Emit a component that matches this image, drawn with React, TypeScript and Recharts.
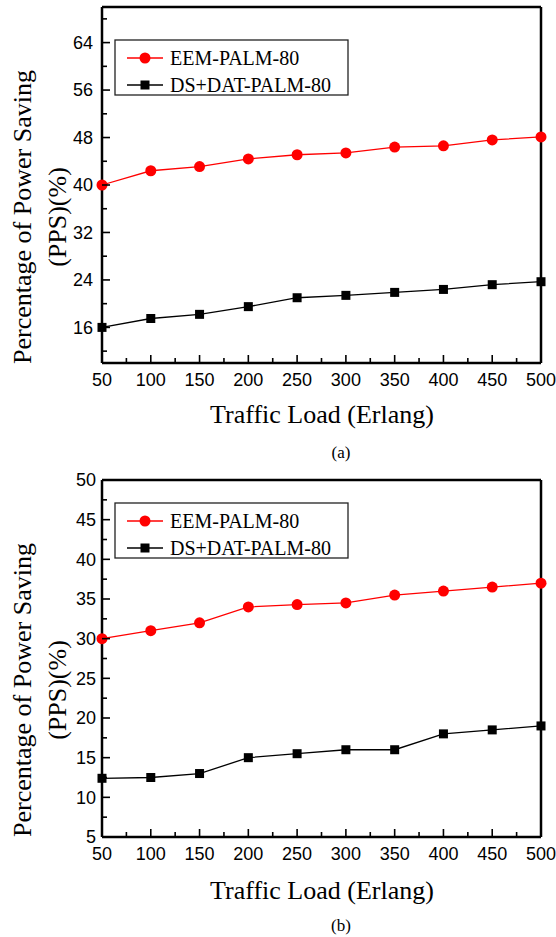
import React from "react";
import { LineChart, Line, XAxis, YAxis } from "recharts";

const loads = [50, 100, 150, 200, 250, 300, 350, 400, 450, 500];

// panel (a)
const eemA = [40, 42.4, 43.1, 44.4, 45.1, 45.4, 46.4, 46.6, 47.6, 48.1];
const dsA = [16, 17.5, 18.2, 19.5, 21.0, 21.4, 21.9, 22.4, 23.2, 23.7];
// panel (b)
const eemB = [30, 31, 32, 34, 34.3, 34.5, 35.5, 36, 36.5, 37];
const dsB = [12.4, 12.5, 13, 15, 15.5, 16, 16, 18, 18.5, 19];

const xMajor = [50, 100, 150, 200, 250, 300, 350, 400, 450, 500];
const xMinor = [75, 125, 175, 225, 275, 325, 375, 425, 475];
const yMajorA = [16, 24, 32, 40, 48, 56, 64];
const yMinorA = [12, 20, 28, 36, 44, 52, 60, 68];
const yMajorB = [5, 10, 15, 20, 25, 30, 35, 40, 45, 50];
const yMinorB = [7.5, 12.5, 17.5, 22.5, 27.5, 32.5, 37.5, 42.5, 47.5];

const seriesNames = ["EEM-PALM-80", "DS+DAT-PALM-80"];
const yTitle = ["Percentage of Power Saving", "(PPS)(%)"];
const xTitle = "Traffic Load (Erlang)";

const RED = "#ff0000";
const SERIF = "'Liberation Serif', 'Times New Roman', serif";
const SANS = "'Liberation Sans', Arial, sans-serif";

const LeftTick = ({ x, y, payload, majors, gap }: any) => {
  const major = majors.includes(payload.value);
  return (
    <g>
      <line x1={x} x2={x + (major ? 8 : 5)} y1={y} y2={y} stroke="#000" strokeWidth={1.6} />
      {major && (
        <text x={x - gap} y={y} dy="0.35em" textAnchor="end" fontFamily={SANS} fontSize={18} fill="#000">
          {payload.value}
        </text>
      )}
    </g>
  );
};

const BottomTick = ({ x, y, payload }: any) => {
  const major = xMajor.includes(payload.value);
  return (
    <g>
      <line x1={x} x2={x} y1={y} y2={y - (major ? 8 : 5)} stroke="#000" strokeWidth={1.6} />
      {major && (
        <text x={x} y={y + 17} dy="0.35em" textAnchor="middle" fontFamily={SANS} fontSize={18} fill="#000">
          {payload.value}
        </text>
      )}
    </g>
  );
};

const RightTick = ({ x, y }: any) => (
  <line x1={x} x2={x + 3} y1={y} y2={y} stroke="#000" strokeWidth={1.2} />
);

const Square = (p: any) => (
  <rect key={`sq-${p.index}`} x={p.cx - 4.5} y={p.cy - 4.5} width={9} height={9} fill="#000" />
);
const Circle = (p: any) => (
  <circle key={`ci-${p.index}`} cx={p.cx} cy={p.cy} r={5.5} fill={RED} />
);

type PanelProps = {
  eem: number[];
  ds: number[];
  domain: [number, number];
  majors: number[];
  minors: number[];
  height: number;
  top: number;
  marginTop: number;
  marginBottom: number;
  gap: number;
  legendY: number;
  titleY: number;
  yTitleY: number;
  caption: string;
  captionY: number;
};

function Panel(p: PanelProps) {
  const data = loads.map((l, i) => ({ load: l, eem: p.eem[i], ds: p.ds[i] }));
  const yTicks = [...p.majors, ...p.minors].sort((a, b) => a - b);
  const xTicks = [...xMajor, ...xMinor].sort((a, b) => a - b);

  const overlay = () => (
    <g>
      {/* y title */}
      <text
        x={22}
        y={p.yTitleY}
        transform={`rotate(-90, 22, ${p.yTitleY})`}
        textAnchor="middle"
        dy="0.35em"
        fontFamily={SERIF}
        fontSize={26}
        fill="#000"
      >
        {yTitle[0]}
      </text>
      <text
        x={57}
        y={p.yTitleY}
        transform={`rotate(-90, 57, ${p.yTitleY})`}
        textAnchor="middle"
        dy="0.35em"
        fontFamily={SERIF}
        fontSize={26}
        fill="#000"
      >
        {yTitle[1]}
      </text>
      {/* x title and caption */}
      <text x={322} y={p.titleY} dy="0.35em" textAnchor="middle" fontFamily={SERIF} fontSize={26} fill="#000">
        {xTitle}
      </text>
      <text x={341} y={p.captionY} dy="0.35em" textAnchor="middle" fontFamily={SERIF} fontSize={17} fill="#000">
        {p.caption}
      </text>
      {/* legend */}
      <rect x={115} y={p.legendY} width={233} height={55} fill="#fff" stroke="#222" strokeWidth={1.3} />
      <line x1={127} x2={163} y1={p.legendY + 18} y2={p.legendY + 18} stroke={RED} strokeWidth={1.3} />
      <circle cx={145} cy={p.legendY + 18} r={5.5} fill={RED} />
      <text x={170} y={p.legendY + 18} dy="0.35em" fontFamily={SERIF} fontSize={20} fill="#000">
        {seriesNames[0]}
      </text>
      <line x1={127} x2={163} y1={p.legendY + 45} y2={p.legendY + 45} stroke="#000" strokeWidth={1.3} />
      <rect x={140.5} y={p.legendY + 40.5} width={9} height={9} fill="#000" />
      <text x={170} y={p.legendY + 45} dy="0.35em" fontFamily={SERIF} fontSize={20} fill="#000">
        {seriesNames[1]}
      </text>
    </g>
  );

  return (
    <div style={{ position: "absolute", left: 0, top: p.top }}>
      <LineChart
        width={556}
        height={p.height}
        data={data}
        margin={{ top: p.marginTop, right: 14, bottom: p.marginBottom, left: 0 }}
      >
        <XAxis
          xAxisId="main"
          dataKey="load"
          type="number"
          domain={[50, 500]}
          ticks={xTicks}
          interval={0}
          height={30}
          tickSize={0}
          tickMargin={0}
          tickLine={false}
          axisLine={{ stroke: "#000", strokeWidth: 2.5 }}
          tick={(t: any) => <BottomTick key={`bx-${t.index}`} {...t} />}
        />
        <XAxis
          xAxisId="top"
          orientation="top"
          dataKey="load"
          type="number"
          domain={[50, 500]}
          height={1}
          tick={false}
          tickLine={false}
          axisLine={{ stroke: "#000", strokeWidth: 2.5 }}
        />
        <YAxis
          yAxisId="l"
          type="number"
          domain={p.domain}
          ticks={yTicks}
          interval={0}
          width={102}
          tickSize={0}
          tickMargin={0}
          tickLine={false}
          axisLine={{ stroke: "#000", strokeWidth: 2.5 }}
          tick={(t: any) => <LeftTick key={`ly-${t.index}`} {...t} majors={p.majors} gap={p.gap} />}
          label={overlay}
        />
        <YAxis
          yAxisId="r"
          orientation="right"
          type="number"
          domain={p.domain}
          ticks={yTicks}
          interval={0}
          width={1}
          tickSize={0}
          tickMargin={0}
          tickLine={false}
          axisLine={{ stroke: "#000", strokeWidth: 2.5 }}
          tick={(t: any) => <RightTick key={`ry-${t.index}`} {...t} />}
        />
        <Line
          xAxisId="main"
          yAxisId="l"
          dataKey="eem"
          type="linear"
          stroke={RED}
          strokeWidth={1.3}
          dot={Circle}
          isAnimationActive={false}
        />
        <Line
          xAxisId="main"
          yAxisId="l"
          dataKey="ds"
          type="linear"
          stroke="#000"
          strokeWidth={1.3}
          dot={Square}
          isAnimationActive={false}
        />
      </LineChart>
    </div>
  );
}

export default function App() {
  return (
    <div style={{ position: "absolute", left: 0, top: 0, width: 556, height: 937, background: "#fff" }}>
      <Panel
        eem={eemA}
        ds={dsA}
        domain={[10, 70]}
        majors={yMajorA}
        minors={yMinorA}
        height={470}
        top={0}
        marginTop={6}
        marginBottom={77}
        gap={9}
        legendY={40}
        titleY={414}
        yTitleY={217}
        caption="(a)"
        captionY={452}
      />
      <Panel
        eem={eemB}
        ds={dsB}
        domain={[5, 50]}
        majors={yMajorB}
        minors={yMinorB}
        height={467}
        top={470}
        marginTop={9}
        marginBottom={70}
        gap={6}
        legendY={33}
        titleY={420}
        yTitleY={220}
        caption="(b)"
        captionY={455}
      />
    </div>
  );
}
